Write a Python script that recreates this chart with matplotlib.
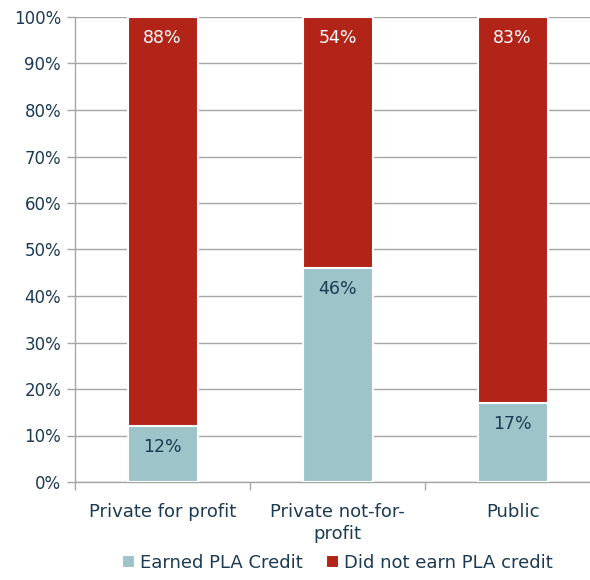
import matplotlib
matplotlib.use("Agg")
import matplotlib.pyplot as plt
import matplotlib.patheffects as pe
import numpy as np

categories = ["Private for profit", "Private not-for-\nprofit", "Public"]
earned = [12, 46, 17]
not_earned = [88, 54, 83]
series_names = ["Earned PLA Credit", "Did not earn PLA credit"]

TEAL = "#9dc4c9"
RED = "#b22418"
TEXT = "#1c3a52"
GRID = "#a6a6a6"

plt.rcParams.update({
    "font.family": ["DejaVu Sans"],
    "font.size": 12,
})

fig = plt.figure(figsize=(5.9, 5.8), dpi=100)
ax = fig.add_axes([75 / 590, 1 - 482 / 580, 525 / 590, 465 / 580])

x = np.arange(len(categories))
w = 0.4
shadow = [pe.SimplePatchShadow(offset=(0.8, -0.8), shadow_rgbFace="#888888", alpha=0.35), pe.Normal()]
b1 = ax.bar(x, earned, w, color=TEAL, edgecolor="white", linewidth=1.5,
            label=series_names[0], zorder=3, path_effects=shadow)
b2 = ax.bar(x, not_earned, w, bottom=earned, color=RED, edgecolor="white", linewidth=1.5,
            label=series_names[1], zorder=3, path_effects=shadow)

for xi, e, n in zip(x, earned, not_earned):
    ax.annotate(f"{e}%", (xi, e), xytext=(0, -15), textcoords="offset points",
                ha="center", va="center", color=TEXT, fontsize=12.5, zorder=4)
    ax.annotate(f"{n}%", (xi, e + n), xytext=(0, -15), textcoords="offset points",
                ha="center", va="center", color="white", fontsize=12.5, zorder=4)

ax.set_xlim(-0.5, len(categories) - 0.5)
ax.set_ylim(0, 100)
ax.set_yticks(np.arange(0, 101, 10))
ax.set_yticklabels([f"{v}%" for v in range(0, 101, 10)])
ax.yaxis.grid(True, color=GRID, linewidth=1)
ax.set_axisbelow(True)

ax.set_xticks(x)
ax.set_xticklabels(categories, color=TEXT, fontsize=13, linespacing=1.3)
ax.set_xticks(np.arange(-0.5, len(categories), 1), minor=True)
ax.tick_params(axis="x", which="major", length=0, pad=15)
ax.tick_params(axis="x", which="minor", length=6, color=GRID, width=1)
ax.tick_params(axis="y", length=6, color=GRID, width=1, labelcolor=TEXT, labelsize=12, pad=4)

for s in ["top", "right"]:
    ax.spines[s].set_visible(False)
for s in ["left", "bottom"]:
    ax.spines[s].set_color(GRID)
    ax.spines[s].set_linewidth(1)

fig.legend(handles=[b1, b2], loc="lower center", bbox_to_anchor=(0.572, -0.014),
           ncol=2, frameon=False, fontsize=13, handlelength=0.7, handleheight=0.7,
           handletextpad=0.3, columnspacing=1.3, labelcolor=TEXT)

fig.savefig("out.png", dpi=100)
